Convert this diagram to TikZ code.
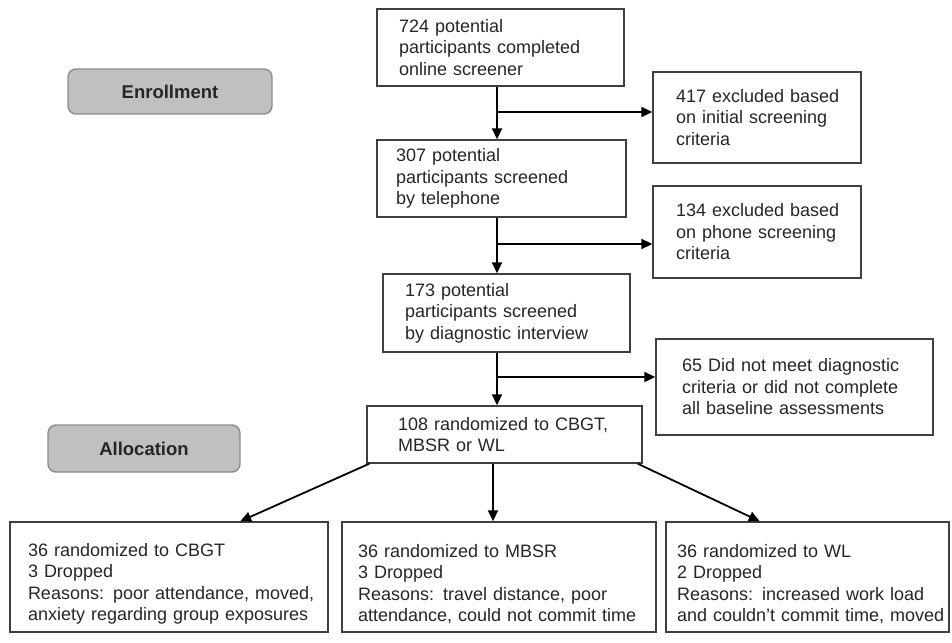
\documentclass[tikz,border=0pt]{standalone}
\usepackage{fontspec}
\setmainfont{Liberation Sans}
\usetikzlibrary{arrows.meta,calc}
\definecolor{boxline}{HTML}{404040}
\definecolor{txt}{HTML}{262626}
\definecolor{stagefill}{HTML}{C0C0C0}
\definecolor{stageline}{HTML}{8C8C8C}
\newcommand{\lowerstrut}{\rule{0pt}{27pt}}
\begin{document}
\begin{tikzpicture}[x=1pt,y=-1pt,
  box/.style={draw=boxline, line width=1.4pt, fill=white, align=left,
    font=\fontsize{18}{21.5}\selectfont, text=txt},
  stage/.style={draw=stageline, fill=stagefill, rounded corners=8pt, line width=1.4pt,
    font=\fontsize{18.5}{21.5}\selectfont\bfseries, text=txt},
  arr/.style={-{Triangle[length=11pt,width=10pt]}, line width=1.8pt, black}]
\useasboundingbox (0,0) rectangle (952,642);

\node[stage, minimum width=204pt, minimum height=45pt] (enr) at (170,91.5) {Enrollment};
\node[stage, minimum width=192pt, minimum height=47pt] (alloc) at (144,448.5) {Allocation};

\node[box, minimum width=247pt, minimum height=77pt, inner xsep=22pt, text width=203pt] (a) at (500.5,47.5)
  {724 potential\\participants completed\\online screener};
\node[box, minimum width=208pt, minimum height=91pt, inner xsep=23pt, text width=162pt] (ex1) at (757,117.5)
  {\mbox{417 excluded based}\\\mbox{on initial screening}\\criteria};
\node[box, minimum width=249pt, minimum height=77pt, inner xsep=19pt, text width=211pt] (b) at (501.5,178.5)
  {307 potential\\participants screened\\by telephone};
\node[box, minimum width=208pt, minimum height=92pt, inner xsep=23pt, text width=162pt] (ex2) at (757,232)
  {\mbox{134 excluded based}\\\mbox{on phone screening}\\criteria};
\node[box, minimum width=247pt, minimum height=78pt, inner xsep=22pt, text width=203pt] (c) at (506.5,313)
  {173 potential\\participants screened\\by diagnostic interview};
\node[box, minimum width=277pt, minimum height=96pt, inner xsep=26pt, text width=225pt] (ex3) at (794.5,387)
  {\mbox{65 Did not meet diagnostic}\\\mbox{criteria or did not complete}\\\mbox{all baseline assessments}};
\node[box, minimum width=275pt, minimum height=57pt, inner xsep=31pt, text width=213pt] (r) at (504.5,434.5)
  {108 randomized to CBGT,\\MBSR or WL};
\node[box, minimum width=318pt, minimum height=110pt, inner xsep=18pt, text width=282pt] (g1) at (169,577)
  {\lowerstrut 36 randomized to CBGT\\3 Dropped\\\mbox{Reasons: poor attendance, moved,}\\\mbox{anxiety regarding group exposures}};
\node[box, minimum width=314pt, minimum height=110pt, inner xsep=16pt, text width=282pt] (g2) at (499,577)
  {\lowerstrut 36 randomized to MBSR\\3 Dropped\\\mbox{Reasons: travel distance, poor}\\\mbox{attendance, could not commit time}};
\node[box, minimum width=283pt, minimum height=110pt, inner xsep=11pt, text width=261pt] (g3) at (807.5,577)
  {\lowerstrut 36 randomized to WL\\2 Dropped\\\mbox{Reasons: increased work load}\\\mbox{and couldn’t commit time, moved}};

\coordinate (col) at (497,0);
\coordinate (col2) at (493,0);
\coordinate (j1) at (497,112);
\coordinate (j2) at (497,244);
\coordinate (j3) at (497,377);

\draw[arr] (a.south -| col) -- (b.north -| col);
\draw[arr] (j1) -- (ex1.west |- j1);
\draw[arr] (b.south -| col) -- (c.north -| col);
\draw[arr] (j2) -- (ex2.west |- j2);
\draw[arr] (c.south -| col) -- (r.north -| col);
\draw[arr] (j3) -- (ex3.west |- j3);

\draw[arr] ([xshift=3pt]r.south west) -- ($(g1.north west)!0.723!(g1.north east)$);
\draw[arr] (r.south -| col2) -- (g2.north -| col2);
\draw[arr] ([xshift=-5pt]r.south east) -- ($(g3.north west)!0.332!(g3.north east)$);
\end{tikzpicture}
\end{document}
